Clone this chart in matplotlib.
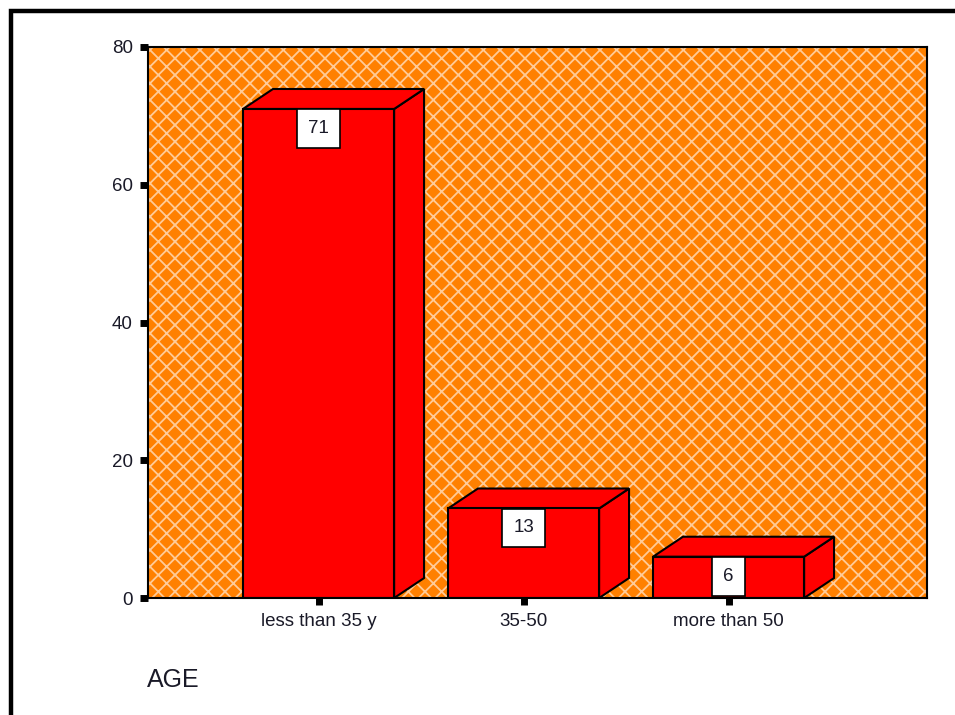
import matplotlib
matplotlib.use("Agg")
import matplotlib.pyplot as plt
from matplotlib.patches import Rectangle, Polygon

# Data
categories = ["less than 35 y", "35-50", "more than 50"]
counts = [71, 13, 6]
y_ticks = [0, 20, 40, 60, 80]
axis_title = "AGE"

plt.rcParams["font.family"] = ["Liberation Sans", "DejaVu Sans"]
plt.rcParams["hatch.linewidth"] = 1.3

fig = plt.figure(figsize=(9.55, 7.15), dpi=100)
ax = fig.add_axes([0.155, 0.1636, 0.8157, 0.7707])

# Patterned orange plot background
bg = Rectangle((0, 0), 1, 1, transform=ax.transAxes, facecolor="#FF8000",
               edgecolor="#FFCB98", linewidth=0, hatch="xx", zorder=0)
ax.add_patch(bg)
ax.patch.set_visible(False)

bar_w = 0.737
depth_x = 0.146
depth_y = 2.9
red = "#FF0000"
xs = list(range(len(categories)))

for x, v in zip(xs, counts):
    x0, x1 = x - bar_w / 2, x + bar_w / 2
    # side face
    side = Polygon([(x1, 0), (x1 + depth_x, depth_y), (x1 + depth_x, v + depth_y), (x1, v)],
                   closed=True, facecolor=red, edgecolor="black", linewidth=1.5, zorder=2,
                   clip_on=False)
    ax.add_patch(side)
    # top face
    top = Polygon([(x0, v), (x0 + depth_x, v + depth_y), (x1 + depth_x, v + depth_y), (x1, v)],
                  closed=True, facecolor=red, edgecolor="black", linewidth=1.5, zorder=2)
    ax.add_patch(top)

ax.bar(xs, counts, width=bar_w, color=red, edgecolor="black", linewidth=1.5, zorder=3)

# Value labels in white boxes hanging from bar tops
for x, v in zip(xs, counts):
    ax.annotate(str(v), xy=(x, v), xytext=(0, -14), textcoords="offset points",
                ha="center", va="center", fontsize=13.5, color="#1a1a28", zorder=5,
                bbox=dict(boxstyle="square,pad=0.58", facecolor="white",
                          edgecolor="black", linewidth=1.2))

ax.set_xlim(-0.832, 2.968)
ax.set_ylim(0, 80)
ax.set_yticks(y_ticks)
ax.set_yticklabels([str(t) for t in y_ticks])
ax.set_xticks(xs)
ax.set_xticklabels(categories)

for s in ax.spines.values():
    s.set_linewidth(1.5)
    s.set_color("black")
    s.set_zorder(6)

ax.tick_params(axis="y", direction="out", length=6, width=5, pad=5,
               labelsize=13.5, labelcolor="#1a1a28", color="black")
ax.tick_params(axis="x", direction="out", length=5, width=5, pad=6,
               labelsize=13.5, labelcolor="#1a1a28", color="black")

fig.text(147 / 955, 1 - 680 / 715, axis_title, fontsize=18, color="#1a1a28",
         ha="left", va="center")

# Outer frame around the figure (top and left edges visible)
frame = Rectangle((11 / 955, -0.05), 1.2, 1 - 11 / 715 + 0.05, transform=fig.transFigure,
                  facecolor="none", edgecolor="black", linewidth=3.2)
fig.add_artist(frame)

fig.savefig("out.png", dpi=100)
